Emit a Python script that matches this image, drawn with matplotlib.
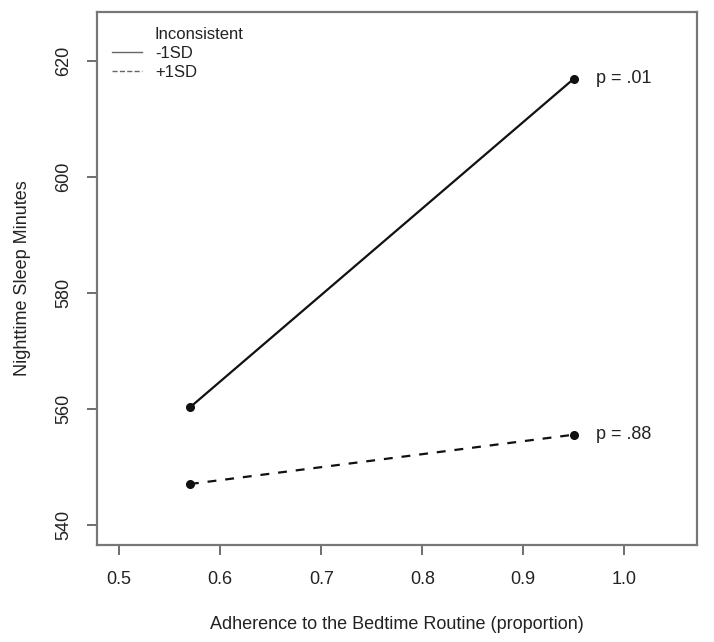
import matplotlib
matplotlib.use("Agg")
import matplotlib.pyplot as plt
from matplotlib.lines import Line2D

plt.rcParams['font.family'] = ['Liberation Sans', 'DejaVu Sans']

# adherence values at -1SD / +1SD of the moderator
adherence = [0.57, 0.95]
sleep_low = [560.3, 616.9]    # Inconsistent -1SD
sleep_high = [547.1, 555.6]   # Inconsistent +1SD
p_labels = ['p = .01', 'p = .88']

x_ticks = [0.5, 0.6, 0.7, 0.8, 0.9, 1.0]
y_ticks = [540, 560, 580, 600, 620]

fig = plt.figure(figsize=(7.14, 6.42), dpi=100)
ax = fig.add_axes([97 / 714, 1 - 545 / 642, 600 / 714, 533 / 642])

ax.plot(adherence, sleep_low, color='#111111', lw=1.6, marker='o', ms=5.5)
ax.plot(adherence, sleep_high, color='#111111', lw=1.6, marker='o', ms=5.5,
        dashes=(4, 4))

# p values next to right end points
ax.text(0.972, sleep_low[1], p_labels[0], fontsize=13, color='#222222', va='center')
ax.text(0.972, sleep_high[1], p_labels[1], fontsize=13, color='#222222', va='center')

# R style extended limits (4%)
xr = (0.5, 1.05)
yr = (540, 625)
ax.set_xlim(xr[0] - 0.04 * (xr[1] - xr[0]), xr[1] + 0.04 * (xr[1] - xr[0]))
ax.set_ylim(yr[0] - 0.04 * (yr[1] - yr[0]), yr[1] + 0.04 * (yr[1] - yr[0]))

ax.set_xticks(x_ticks)
ax.set_xticklabels(['%.1f' % t for t in x_ticks])
ax.set_yticks(y_ticks)
ax.set_yticklabels([str(t) for t in y_ticks], rotation=90, va='center')

ax.tick_params(axis='both', direction='out', length=7, width=1.2, colors='#555555',
               labelcolor='#222222', labelsize=13)
ax.tick_params(axis='x', pad=12)
ax.tick_params(axis='y', pad=11)
for s in ax.spines.values():
    s.set_color('#777777')
    s.set_linewidth(1.6)

ax.set_xlabel('Adherence to the Bedtime Routine (proportion)', fontsize=13,
              color='#222222', labelpad=20)
ax.set_ylabel('Nighttime Sleep Minutes', fontsize=13, color='#222222', labelpad=17)

handles = [Line2D([], [], color='none'),
           Line2D([], [], color='#666666', lw=1),
           Line2D([], [], color='#666666', lw=1, ls='--')]
leg = ax.legend(handles, ['Inconsistent', '-1SD', '+1SD'], loc='upper left',
                bbox_to_anchor=(0.025, 0.972), frameon=False, fontsize=12,
                handlelength=1.8, handletextpad=0.78, labelspacing=0.25,
                borderpad=0, borderaxespad=0)
for t in leg.get_texts():
    t.set_color('#222222')

fig.savefig('out.png', dpi=100)
